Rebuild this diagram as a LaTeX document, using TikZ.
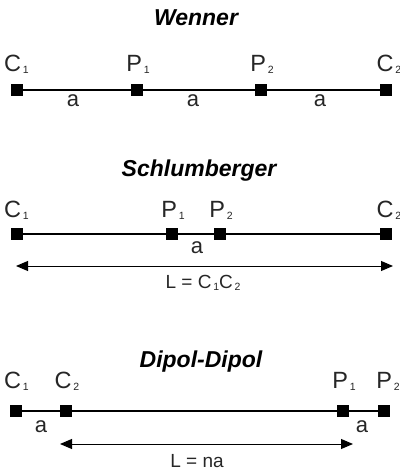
\documentclass[tikz,border=0pt]{standalone}
\usepackage{fontspec}
\setmainfont{Liberation Sans}
\usetikzlibrary{arrows.meta}
\newcommand\lblsub[1]{\raisebox{-2pt}{\fontsize{10.5}{10.5}\selectfont\,#1}}
\begin{document}
\begin{tikzpicture}[x=1pt,y=-1pt,
  sq/.style={fill=black,draw=black,minimum size=11pt,inner sep=0pt},
  lab/.style={anchor=base,inner sep=0pt,text=black!85,font=\fontsize{23.5}{23.5}\selectfont},
  dist/.style={anchor=base,inner sep=0pt,text=black!85,font=\fontsize{22}{22}\selectfont},
  len/.style={anchor=base,inner sep=0pt,text=black!85,font=\fontsize{19}{19}\selectfont},
  ttl/.style={anchor=base,inner sep=0pt,font=\fontsize{23}{23}\selectfont\bfseries\itshape},
  wire/.style={line width=1.6pt},
  dim/.style={line width=1pt,{Triangle[length=12pt,width=10pt]}-{Triangle[length=12pt,width=10pt]}},
]
\useasboundingbox (0,0) rectangle (399,470);

% Wenner
\node[ttl] (wt) at (196,26) {Wenner};
\node[sq] (w1) at (16.5,90) {};
\node[sq] (w2) at (137,90) {};
\node[sq] (w3) at (261,90) {};
\node[sq] (w4) at (386,90) {};
\draw[wire] (w1) -- (w2);
\draw[wire] (w2) -- (w3);
\draw[wire] (w3) -- (w4);
\node[lab] (wl1) at (16.5,72) {C\lblsub{1}};
\node[lab] (wl2) at (138,72) {P\lblsub{1}};
\node[lab] (wl3) at (262,72) {P\lblsub{2}};
\node[lab] (wl4) at (389,72) {C\lblsub{2}};
\node[dist] (wa1) at (73,107) {a};
\node[dist] (wa2) at (193,107) {a};
\node[dist] (wa3) at (320,107) {a};

% Schlumberger
\node[ttl] (st) at (199,177) {Schlumberger};
\node[sq] (s1) at (16.5,234) {};
\node[sq] (s2) at (172,234) {};
\node[sq] (s3) at (220,234) {};
\node[sq] (s4) at (386,234) {};
\draw[wire] (s1) -- (s2);
\draw[wire] (s2) -- (s3);
\draw[wire] (s3) -- (s4);
\node[lab] (sl1) at (16.5,217) {C\lblsub{1}};
\node[lab] (sl2) at (173,217) {P\lblsub{1}};
\node[lab] (sl3) at (221,217) {P\lblsub{2}};
\node[lab] (sl4) at (389,217) {C\lblsub{2}};
\node[dist] (sa) at (197,253) {a};
\coordinate (sL) at (16,266);
\coordinate (sR) at (393,266);
\draw[dim] (sL) -- (sR);
\node[len] (sLen) at (203,288) {L = C\lblsub{1}C\lblsub{2}};

% Dipol-Dipol
\node[ttl] (dt) at (201,367) {Dipol-Dipol};
\node[sq] (d1) at (16,411) {};
\node[sq] (d2) at (66,411) {};
\node[sq] (d3) at (343,411) {};
\node[sq] (d4) at (384,411) {};
\draw[wire] (d1) -- (d2);
\draw[wire] (d2) -- (d3);
\draw[wire] (d3) -- (d4);
\node[lab] (dl1) at (16.5,388) {C\lblsub{1}};
\node[lab] (dl2) at (67,388) {C\lblsub{2}};
\node[lab] (dl3) at (344,388) {P\lblsub{1}};
\node[lab] (dl4) at (388,388) {P\lblsub{2}};
\node[dist] (da1) at (41,432) {a};
\node[dist] (da2) at (362,432) {a};
\coordinate (dL) at (60,444);
\coordinate (dR) at (353,444);
\draw[dim] (dL) -- (dR);
\node[len] (dLen) at (197,467) {L = na};
\end{tikzpicture}
\end{document}
